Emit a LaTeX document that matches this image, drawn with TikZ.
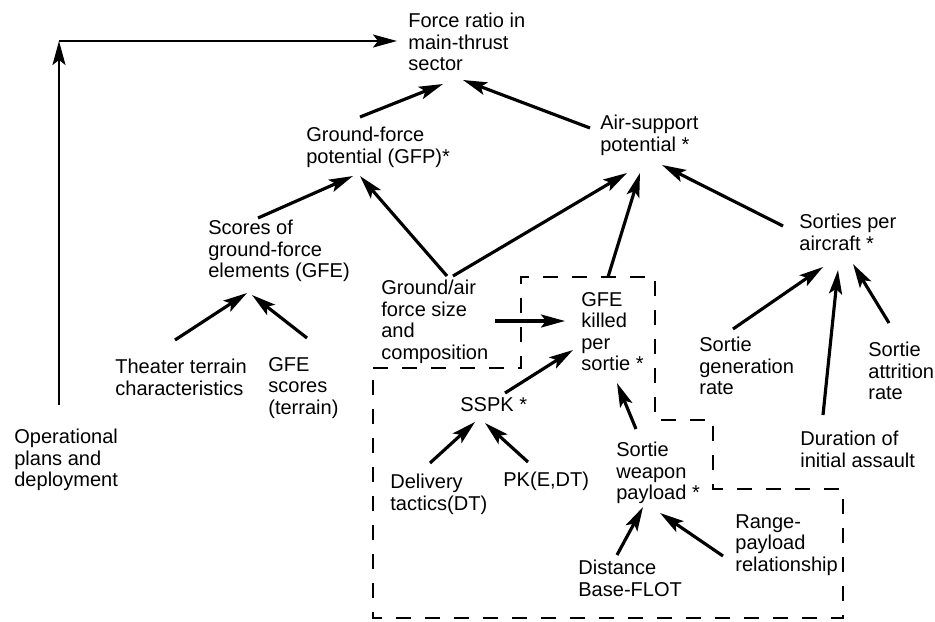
\documentclass[tikz,border=0pt]{standalone}
\usepackage{fontspec}
\setmainfont{Liberation Sans}
\usetikzlibrary{arrows.meta, calc}

\begin{document}
\begin{tikzpicture}[
  x=0.2mm, y=-0.2mm,
  lbl/.style={anchor=north west, align=left, inner sep=0pt,
              font=\fontsize{11.4}{12.2}\selectfont},
  arrow/.style={-{Stealth[length=4.8mm, width=2.6mm, inset=1mm]}, line width=1.8pt},
  region/.style={line width=1.6pt, dash pattern=on 3mm off 2.8mm}
]
  \useasboundingbox (0,0) rectangle (935,621);

  % factors
  \node[lbl] (force)     at (408,13)  {Force ratio in\\main-thrust\\sector};
  \node[lbl] (gfp)       at (306,127) {Ground-force\\potential (GFP)*};
  \node[lbl] (air)       at (600,115) {Air-support\\potential *};
  \node[lbl] (sorties)   at (799,214) {Sorties per\\aircraft *};
  \node[lbl] (scores)    at (208,220) {Scores of\\ground-force\\elements (GFE)};
  \node[lbl] (gasize)    at (381,280) {Ground/air\\force size\\and\\composition};
  \node[lbl] (gfek)      at (581,292) {GFE\\killed\\per\\sortie *};
  \node[lbl] (sspk)      at (460,397) {SSPK *};
  \node[lbl] (delivery)  at (390,474) {Delivery\\tactics(DT)};
  \node[lbl] (pk)        at (503,472) {PK(E,DT)};
  \node[lbl] (payload)   at (616,442) {Sortie\\weapon\\payload *};
  \node[lbl] (distance)  at (578,560) {Distance\\Base-FLOT};
  \node[lbl] (rangepl)   at (735,514) {Range-\\payload\\relationship};
  \node[lbl] (gen)       at (699,337) {Sortie\\generation\\rate};
  \node[lbl] (attr)      at (868,342) {Sortie\\attrition\\rate};
  \node[lbl] (duration)  at (800,431) {Duration of\\initial assault};
  \node[lbl] (terrain)   at (115,359) {Theater terrain\\characteristics};
  \node[lbl] (gfescores) at (268,357) {GFE\\scores\\(terrain)};
  \node[lbl] (oplans)    at (14,429)  {Operational\\plans and\\deployment};

  \coordinate (corner) at (59,41);

  % dashed boundary
  \draw[region] (373,368) -- (521,368) -- (521,277) -- (655,277) -- (655,420)
    -- (713,420) -- (713,489) -- (843,489) -- (843,618) -- (373,618) -- cycle;

  % links
  \draw[arrow, line width=1.3pt] ($(oplans.north west)+(45,-24)$) -- (corner);
  \draw[arrow, line width=1.3pt] (corner) -- ($(force.north west)+(-11,28)$);
  \draw[arrow] ($(gfp.north west)+(54,-10)$) -- ($(force.north west)+(35,71)$);
  \draw[arrow] ($(air.north west)+(-10,13)$) -- ($(force.north west)+(55,67)$);
  \draw[arrow] ($(scores.north west)+(50,-2)$) -- ($(gfp.north west)+(47,49)$);
  \draw[arrow] ($(gasize.north west)+(66,-4)$) -- ($(gfp.north west)+(54,49)$);
  \draw[arrow] ($(gasize.north west)+(72,-4)$) -- ($(air.north west)+(27,58)$);
  \draw[arrow] ($(gfek.north west)+(27,-15)$) -- ($(air.north west)+(40,58)$);
  \draw[arrow] ($(sorties.north west)+(-16,12)$) -- ($(air.north west)+(62,50)$);
  \draw[arrow] ($(gen.north west)+(34,-8)$) -- ($(sorties.north west)+(24,53)$);
  \draw[arrow] ($(duration.north west)+(23,-16)$) -- ($(sorties.north west)+(39,56)$);
  \draw[arrow] ($(attr.north west)+(21,-19)$) -- ($(sorties.north west)+(54,50)$);
  \draw[arrow] ($(terrain.north west)+(60,-19)$) -- ($(scores.north west)+(39,73)$);
  \draw[arrow] ($(gfescores.north west)+(39,-19)$) -- ($(scores.north west)+(44,75)$);
  \draw[arrow] ($(gasize.north west)+(114,41)$) -- ($(gfek.north west)+(-16,29)$);
  \draw[arrow] ($(sspk.north west)+(45,-4)$) -- ($(gfek.north west)+(-8,58)$);
  \draw[arrow] ($(payload.north west)+(20,-13)$) -- ($(gfek.north west)+(36,91)$);
  \draw[arrow] ($(delivery.north west)+(40,-11)$) -- ($(sspk.north west)+(15,25)$);
  \draw[arrow] ($(pk.north west)+(25,-10)$) -- ($(sspk.north west)+(25,26)$);
  \draw[arrow] ($(distance.north west)+(39,-5)$) -- ($(payload.north west)+(27,65)$);
  \draw[arrow] ($(rangepl.north west)+(-12,42)$) -- ($(payload.north west)+(44,71)$);
\end{tikzpicture}
\end{document}
